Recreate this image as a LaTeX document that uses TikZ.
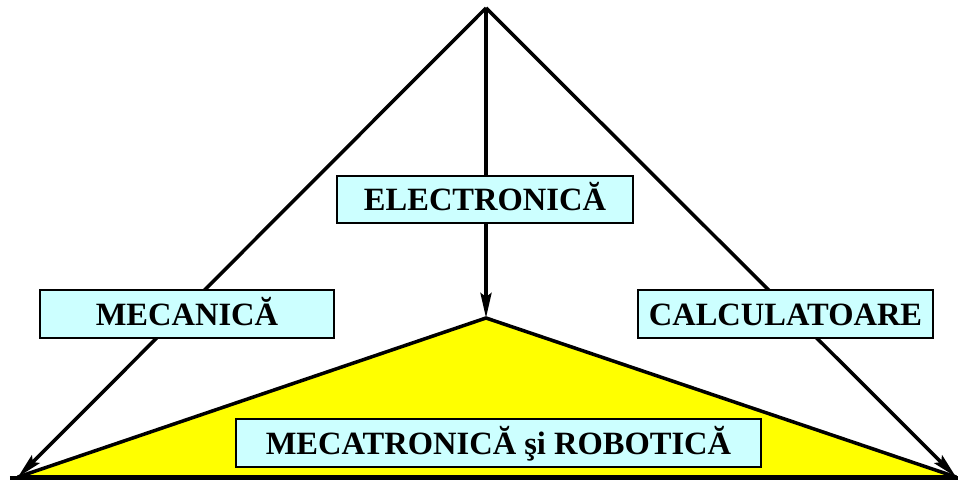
\documentclass[tikz,border=0pt]{standalone}
\usepackage{fontspec}
\setmainfont{Liberation Serif}
\usetikzlibrary{arrows.meta,shadows}
\definecolor{boxcyan}{HTML}{CCFFFF}
\definecolor{basey}{HTML}{FFFF00}

\begin{document}
\begin{tikzpicture}[x=1cm,y=1cm,
    fieldbox/.style={draw,line width=1.2pt,fill=boxcyan,inner sep=0pt,
      minimum height=0.95cm,text height=0.46cm,text depth=0pt,
      font=\fontsize{18.5}{22}\selectfont\bfseries,
      drop shadow={shadow xshift=0.7pt,shadow yshift=-0.7pt,fill=gray!45,opacity=1}},
    flow/.style={-{Stealth[length=5mm,width=2.2mm,inset=0.8mm]},line width=2pt}]
  \useasboundingbox (0,0) rectangle (19.2,9.68);
  \coordinate (top) at (9.72,9.52);
  \coordinate (leftc) at (0.36,0.14);
  \coordinate (rightc) at (19.12,0.14);
  \coordinate (peak) at (9.72,3.32);
  % yellow base triangle
  \draw[fill=basey,line width=2pt,line join=round] (leftc) -- (peak) -- (rightc) -- cycle;
  \draw[line width=2pt] (0.2,0.12) -- (19.16,0.12);
  % arrows from the top
  \draw[flow] (top) -- (leftc);
  \draw[flow] (top) -- (rightc);
  \draw[flow] (top) -- (peak);
  % boxes
  \node[fieldbox,minimum width=5.88cm] (mec) at (3.74,3.40) {MECANICĂ};
  \node[fieldbox,minimum width=5.92cm] (ele) at (9.70,5.69) {ELECTRONICĂ};
  \node[fieldbox,minimum width=5.9cm] (calc) at (15.71,3.40) {CALCULATOARE};
  \node[fieldbox,minimum width=10.5cm] (mecr) at (9.97,0.82) {MECATRONICĂ şi ROBOTICĂ};
\end{tikzpicture}
\end{document}
